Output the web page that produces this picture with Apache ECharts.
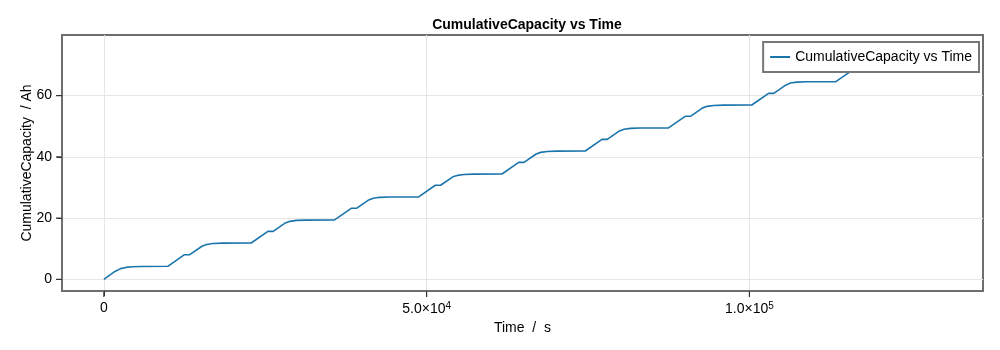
<!DOCTYPE html>
<html>
<head>
<meta charset="utf-8">
<title>CumulativeCapacity vs Time</title>
<script src="https://cdn.jsdelivr.net/npm/echarts@6.0.0/dist/echarts.min.js"></script>
<style>
	html, body {
		width: 100%;
		height: 100%;
		margin: 0;
		padding: 0;
		background: #fff;
	}
	#main {
		width: 1000px;
		height: 350px;
	}
</style>
</head>
<body>
<div id="main"></div>
<script>
// values (s, Ah)
var time = [
	0, 1500, 2600, 3400, 4400, 5800, 9900,
	12490, 13300, 15200, 15900, 16900, 18400, 22820,
	25410, 26220, 28120, 28820, 29820, 31320, 35730,
	38320, 39130, 41030, 41730, 42730, 44230, 48760,
	51350, 52160, 54060, 54760, 55760, 57260, 61670,
	64260, 65070, 66970, 67670, 68670, 70170, 74570,
	77160, 77970, 79870, 80570, 81570, 83070, 87460,
	90050, 90860, 92760, 93460, 94460, 95960, 100370,
	102960, 103770, 105670, 106370, 107370, 108870, 113380,
	115970, 116780, 118680, 119380, 120380, 121880, 126290,
	128880, 129700
];
var capacity = [
	0, 2.3, 3.5, 3.9, 4.1, 4.22, 4.26,
	8.06, 8.06, 10.81, 11.41, 11.71, 11.84, 11.88,
	15.68, 15.68, 18.43, 18.95, 19.25, 19.36, 19.40,
	23.2, 23.2, 25.95, 26.49, 26.79, 26.9, 26.94,
	30.74, 30.74, 33.49, 33.95, 34.25, 34.36, 34.40,
	38.2, 38.2, 40.95, 41.47, 41.77, 41.88, 41.92,
	45.72, 45.72, 48.47, 49.0, 49.3, 49.41, 49.45,
	53.25, 53.25, 56.0, 56.5, 56.8, 56.91, 56.95,
	60.75, 60.75, 63.5, 64.1, 64.4, 64.51, 64.55,
	68.35, 68.35, 71.1, 71.65, 71.95, 72.06, 72.1,
	75.9, 75.9
];
var xTicks = [0, 50000, 100000];
var yTicks = [0, 20, 40, 60];
var xMin = -6485, xMax = 136185;
var yMin = -3.8, yMax = 79.8;

var points = [];
for (var i = 0; i < time.length; i++) {
	points.push([time[i], capacity[i]]);
}

var font = 'Liberation Sans';
var frame = '#6e6e6e';
var chart = echarts.init(document.getElementById('main'), null, {renderer: 'canvas'});
chart.setOption({
	animation: false,
	backgroundColor: '#fff',
	textStyle: {fontFamily: font},
	title: {
		text: 'CumulativeCapacity vs Time',
		left: 522,
		textAlign: 'center',
		top: 13,
		textStyle: {fontFamily: font, fontSize: 14, fontWeight: 'bold', color: '#000'}
	},
	legend: {
		data: [{name: 'CumulativeCapacity vs Time', icon: 'rect'}],
		right: 21,
		top: 42,
		padding: [7, 7, 7, 7],
		itemWidth: 20,
		itemHeight: 2,
		itemGap: 5,
		backgroundColor: '#fff',
		borderColor: '#777',
		borderWidth: 2,
		borderRadius: 0,
		textStyle: {fontFamily: font, fontSize: 14, color: '#000', lineHeight: 16}
	},
	grid: {
		left: 62,
		right: 17,
		top: 35,
		bottom: 59,
		show: true,
		borderColor: frame,
		borderWidth: 2,
		backgroundColor: '#fff'
	},
	xAxis: {
		type: 'value',
		min: xMin,
		max: xMax,
		name: 'Time  /  s',
		nameLocation: 'middle',
		nameGap: 30,
		nameMoveOverlap: false,
		nameTextStyle: {fontFamily: font, fontSize: 14, color: '#000'},
		axisLine: {show: true, onZero: false, lineStyle: {color: frame, width: 2}},
		axisTick: {show: true, inside: false, customValues: xTicks, length: 5, lineStyle: {color: '#333', width: 1}},
		axisLabel: {
			customValues: xTicks,
			margin: 10,
			fontFamily: font,
			fontSize: 14,
			color: '#000',
			formatter: function(v) {
				if (v === 0) return '0';
				var e = Math.floor(Math.log10(v));
				return '{m|' + (v / Math.pow(10, e)).toFixed(1) + '×10}{e|' + e + '}';
			},
			rich: {
				m: {fontFamily: font, fontSize: 14, color: '#000'},
				e: {fontFamily: font, fontSize: 10, color: '#000', padding: [0, 0, 7, 0]}
			}
		},
		splitLine: {show: true, lineStyle: {color: '#e6e6e6', width: 1}}
	},
	yAxis: {
		type: 'value',
		min: yMin,
		max: yMax,
		name: 'CumulativeCapacity  / Ah',
		nameLocation: 'middle',
		nameGap: 28,
		nameMoveOverlap: false,
		nameTextStyle: {fontFamily: font, fontSize: 14, color: '#000'},
		axisLine: {show: true, onZero: false, lineStyle: {color: frame, width: 2}},
		axisTick: {show: true, inside: false, customValues: yTicks, length: 5, lineStyle: {color: '#333', width: 1}},
		axisLabel: {customValues: yTicks, margin: 10, fontFamily: font, fontSize: 14, color: '#000'},
		splitLine: {show: true, lineStyle: {color: '#e6e6e6', width: 1}}
	},
	series: [{
		name: 'CumulativeCapacity vs Time',
		type: 'line',
		data: points,
		symbol: 'none',
		lineStyle: {color: '#1b75ad', width: 1.6},
		itemStyle: {color: '#1b75ad'}
	}]
});

// outward tick marks, placed through the chart's own scales
var marks = [];
xTicks.forEach(function(v) {
	var p = chart.convertToPixel({seriesIndex: 0}, [v, yMin]);
	marks.push({type: 'line', z: 100, shape: {x1: p[0], y1: p[1] + 1, x2: p[0], y2: p[1] + 6}, style: {stroke: '#333', lineWidth: 1.2}, silent: true});
});
yTicks.forEach(function(v) {
	var p = chart.convertToPixel({seriesIndex: 0}, [xMin, v]);
	marks.push({type: 'line', z: 100, shape: {x1: p[0] - 1, y1: p[1], x2: p[0] - 6, y2: p[1]}, style: {stroke: '#333', lineWidth: 1.2}, silent: true});
});
chart.setOption({graphic: {elements: marks}});
</script>
</body>
</html>
